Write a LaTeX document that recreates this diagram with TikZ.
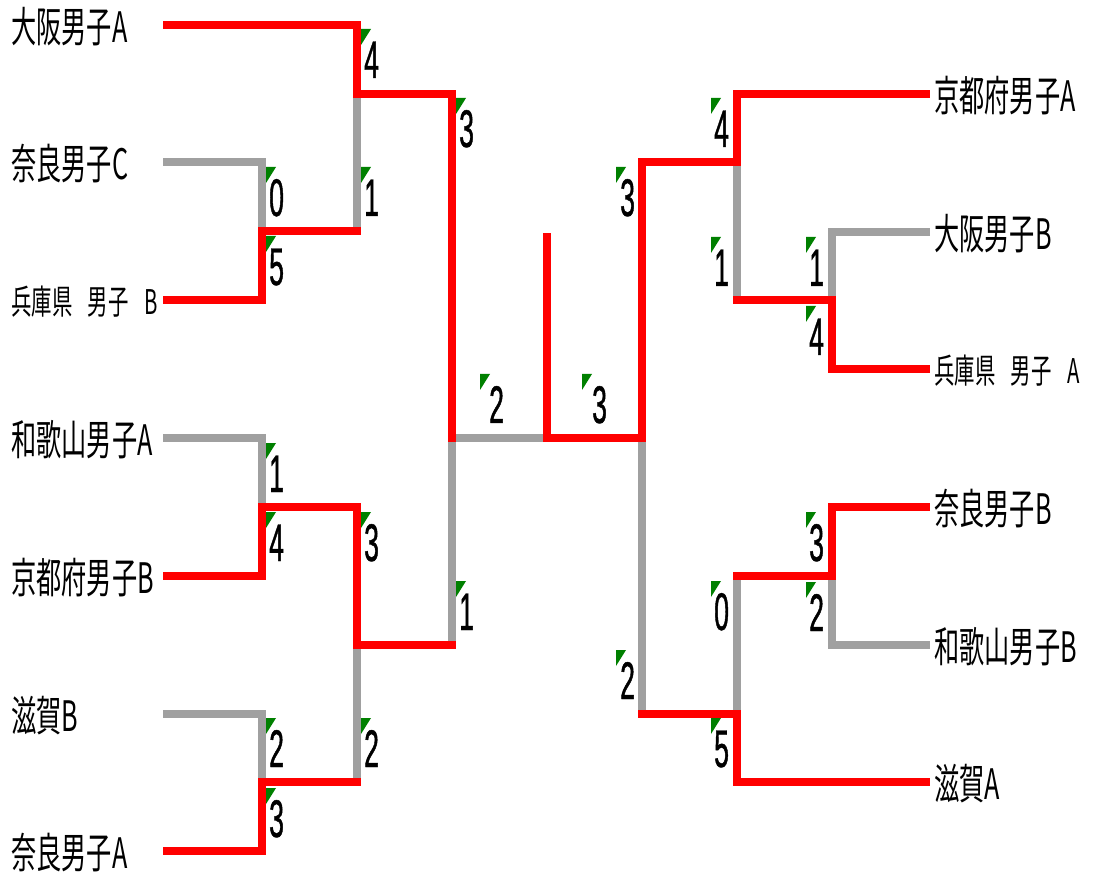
\documentclass[tikz,border=0pt]{standalone}
\usepackage{fontspec}
\newfontfamily\jpfont[FakeStretch=0.6,WordSpace=2.2]{Noto Sans CJK JP}
\newfontfamily\jpsmallfont[FakeStretch=0.6,WordSpace=3.4]{Noto Sans CJK JP}
\newfontfamily\numfont[FakeStretch=0.5,FakeBold=0.8]{Liberation Sans}
\definecolor{winred}{RGB}{255,0,0}
\definecolor{losegray}{RGB}{160,160,160}
\definecolor{mkgreen}{RGB}{0,128,0}
\tikzset{
  win/.style={draw=winred,line width=8pt,line cap=rect,line join=miter},
  lose/.style={draw=losegray,line width=8pt,line cap=rect,line join=miter},
  team/.style={font=\jpfont\fontsize{42}{42}\selectfont,inner sep=0pt,anchor=west},
  teamsm/.style={font=\jpsmallfont\fontsize{34}{34}\selectfont,inner sep=0pt,anchor=west},
  sc/.style={font=\numfont\fontsize{53}{53}\selectfont,inner sep=0pt,anchor=base west},
  mk/.style={fill=mkgreen},
}
\newcommand{\scoremark}[5]{%
  \fill[mk] (#2,#3) -- ++(10,0) -- ++(-10,16) -- cycle;
  \node[sc] (#1) at (#2+#4,#3+49) {#5};}
\begin{document}
\begin{tikzpicture}[x=1pt,y=-1pt]
\useasboundingbox[fill=white] (0,0) rectangle (1093,877);
% team labels
\node[team] (osakaA) at (11,27) {大阪男子A};
\node[team] (naraC) at (11,164) {奈良男子C};
\node[teamsm] (hyogoB) at (11,302) {兵庫県 男子 B};
\node[team] (wakayamaA) at (11,440) {和歌山男子A};
\node[team] (kyotoB) at (11,578) {京都府男子B};
\node[team] (shigaB) at (11,716) {滋賀B};
\node[team] (naraA) at (11,853) {奈良男子A};
\node[team] (kyotoA) at (934,96) {京都府男子A};
\node[team] (osakaB) at (934,234) {大阪男子B};
\node[teamsm] (hyogoA) at (934,371) {兵庫県 男子 A};
\node[team] (naraB) at (934,509) {奈良男子B};
\node[team] (wakayamaB) at (934,647) {和歌山男子B};
\node[team] (shigaA) at (934,784) {滋賀A};
% line ends and junctions
\coordinate (a1) at (167,25);
\coordinate (a2) at (167,162);
\coordinate (a3) at (167,300);
\coordinate (a4) at (167,438);
\coordinate (a5) at (167,576);
\coordinate (a6) at (167,714);
\coordinate (a7) at (167,851);
\coordinate (b1) at (926,94);
\coordinate (b2) at (926,232);
\coordinate (b3) at (926,369);
\coordinate (b4) at (926,507);
\coordinate (b5) at (926,645);
\coordinate (b6) at (926,782);
\coordinate (la1) at (262,231);
\coordinate (la2) at (262,507);
\coordinate (la3) at (262,782);
\coordinate (lb1) at (357,94);
\coordinate (lb2) at (357,645);
\coordinate (lc) at (452,438);
\coordinate (fin) at (547,438);
\coordinate (top) at (547,237);
\coordinate (ra1) at (832,300);
\coordinate (ra2) at (832,576);
\coordinate (rb1) at (737,162);
\coordinate (rb2) at (737,714);
\coordinate (rc) at (642,438);
% losing lines
\draw[lose] (a2) -| (la1);
\draw[lose] (la1 -| lb1) -- (lb1);
\draw[lose] (a4) -| (la2);
\draw[lose] (a6) -| (la3);
\draw[lose] (la3 -| lb2) -- (lb2);
\draw[lose] (lb2 -| lc) -- (lc) -- (fin);
\draw[lose] (rb1) -- (ra1 -| rb1);
\draw[lose] (b2) -| (ra1);
\draw[lose] (b5) -| (ra2);
\draw[lose] (ra2 -| rb2) -- (rb2);
\draw[lose] (rc) -- (rb2 -| rc);
% winning lines
\draw[win] (a1) -| (lb1) -- (lb1 -| lc) -- (lc);
\draw[win] (a3) -| (la1) -- (la1 -| lb1);
\draw[win] (a5) -| (la2) -- (la2 -| lb2) -- (lb2) -- (lb2 -| lc);
\draw[win] (a7) -| (la3) -- (la3 -| lb2);
\draw[win] (b1) -| (rb1) -- (rb1 -| rc) -- (rc) -- (fin) -- (top);
\draw[win] (b3) -| (ra1) -- (ra1 -| rb1);
\draw[win] (b4) -| (ra2) -- (ra2 -| rb2);
\draw[win] (b6) -| (rb2) -- (rb2 -| rc);
% scores
\scoremark{s1}{266}{167}{3}{0}
\scoremark{s2}{266}{236}{3}{5}
\scoremark{s3}{266}{443}{3}{1}
\scoremark{s4}{266}{512}{3}{4}
\scoremark{s5}{266}{718}{3}{2}
\scoremark{s6}{266}{788}{3}{3}
\scoremark{s7}{361}{29}{3}{4}
\scoremark{s8}{361}{167}{3}{1}
\scoremark{s9}{361}{512}{3}{3}
\scoremark{s10}{361}{718}{3}{2}
\scoremark{s11}{456}{98}{3}{3}
\scoremark{s12}{456}{581}{3}{1}
\scoremark{s13}{480}{374}{9}{2}
\scoremark{s14}{582}{374}{10}{3}
\scoremark{s15}{616}{167}{4}{3}
\scoremark{s16}{616}{650}{4}{2}
\scoremark{s17}{711}{98}{3}{4}
\scoremark{s18}{711}{237}{3}{1}
\scoremark{s19}{711}{581}{3}{0}
\scoremark{s20}{711}{718}{3}{5}
\scoremark{s21}{806}{237}{3}{1}
\scoremark{s22}{806}{306}{3}{4}
\scoremark{s23}{806}{512}{3}{3}
\scoremark{s24}{806}{582}{3}{2}
\end{tikzpicture}
\end{document}
